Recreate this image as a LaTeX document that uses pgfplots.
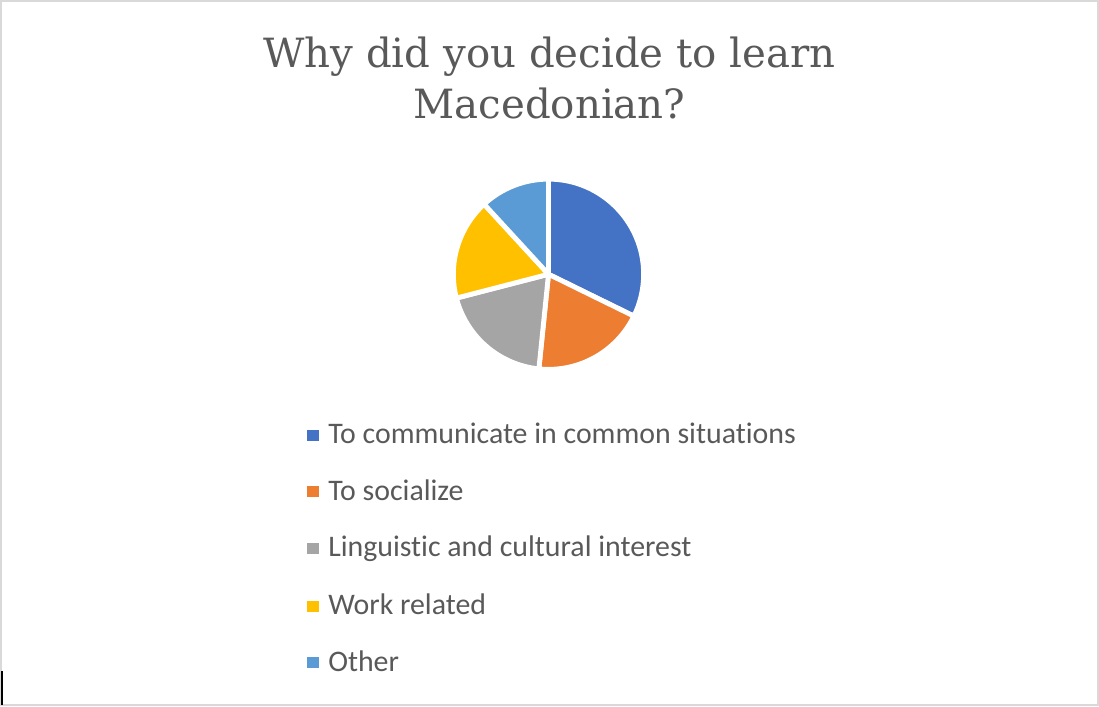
\documentclass[border=0pt]{standalone}
\usepackage{pgfplots}
\pgfplotsset{compat=1.18}
\usepackage{fontspec}
\setmainfont{Carlito}[Ligatures=NoCommon]
\newfontfamily\titlefont{DejaVu Serif}
\definecolor{c1}{HTML}{4472C4}
\definecolor{c2}{HTML}{ED7D31}
\definecolor{c3}{HTML}{A5A5A5}
\definecolor{c4}{HTML}{FFC000}
\definecolor{c5}{HTML}{5B9BD5}
\definecolor{txt}{HTML}{595959}
\definecolor{frame}{HTML}{D9D9D9}
\begin{document}
\begin{tikzpicture}
\begin{axis}[x=0.5pt,y=0.5pt,xmin=0,xmax=1099,ymin=0,ymax=717,hide axis,clip=false]
\pgfplotsextra{
% frame
\draw[frame,line width=1pt] (axis cs:4,711) rectangle (axis cs:1088,15);
\draw[black,line width=0.6pt] (axis cs:5,49) -- (axis cs:5,15);
% title
\node[anchor=base,inner sep=0,text=txt,font=\titlefont\fontsize{19.9}{23}\selectfont] at (axis cs:546,645.3) {Why did you decide to learn};
\node[anchor=base,inner sep=0,text=txt,font=\titlefont\fontsize{19.9}{23}\selectfont] at (axis cs:546,595.3) {Macedonian?};
% pie: values 30,18,18,16,11 (total 93), clockwise from 12 o'clock
\gdef\angA{90}
\foreach \v/\c in {30/c1,18/c2,18/c3,16/c4,11/c5}{
  \pgfmathsetmacro\angB{\angA-\v/93*360}
  \filldraw[fill=\c,draw=white,line width=2.4pt,line join=round] (axis cs:545,441) -- ++(\angA:47pt) arc[start angle=\angA,end angle=\angB,radius=47pt] -- cycle;
  \xdef\angA{\angB}
}
% legend
\foreach \c/\yc/\t in {c1/282/{To communicate in common situations},c2/226/{To socialize},c3/170/{Linguistic and cultural interest},c4/113/{Work related},c5/57/{Other}}{
  \fill[\c] (axis cs:306,\yc-5.5) rectangle (axis cs:318,\yc+5.5);
  \node[anchor=base west,inner sep=0,text=txt,font=\fontsize{14.75}{17}\selectfont] at (axis cs:327,\yc-8.3) {\t};
}
}
\end{axis}
\end{tikzpicture}
\end{document}
